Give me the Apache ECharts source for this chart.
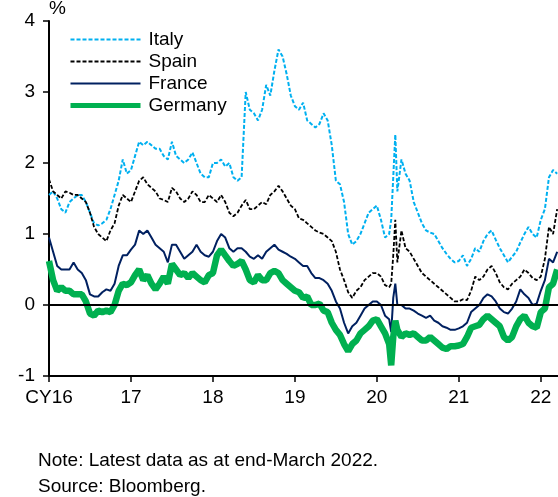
<!DOCTYPE html>
<html>
<head>
<meta charset="utf-8">
<script src="https://cdn.jsdelivr.net/npm/echarts@6/dist/echarts.min.js"></script>
<style>
html,body{margin:0;padding:0;background:#fff;}
#chart{width:558px;height:497px;}
</style>
</head>
<body>
<div id="chart"></div>
<script>
// Sampling dates (fractional years), ~every 0.05 yr, with extra points around March 2020
const sampleDates = [];
for (let y = 2016; y <= 2021; y++) {
  for (let k = 0; k < 20; k++) {
    sampleDates.push(+(y + k * 0.05).toFixed(3));
    if (y === 2020 && (k === 3 || k === 4)) sampleDates.push(+(y + k * 0.05 + 0.025).toFixed(3));
  }
}
for (let k = 0; k <= 4; k++) sampleDates.push(+(2022 + k * 0.05).toFixed(3));

const tickYears = [2016, 2017, 2018, 2019, 2020, 2021, 2022];
const tickLabels = ['CY16', '17', '18', '19', '20', '21', '22'];
const seriesNames = ['Italy', 'Spain', 'France', 'Germany'];

const italy = [
  1.55,1.6,1.5,1.35,1.3,1.45,1.5,1.55,1.55,1.45,1.3,1.15,1.12,1.15,1.2,1.35,1.55,1.75,2.05,1.85,
  1.9,2.1,2.3,2.25,2.3,2.25,2.2,2.2,2.1,2.05,2.3,2.1,2.05,2.0,2.05,2.15,2.0,1.85,1.8,1.8,
  2.0,2.0,2.05,1.95,2.0,1.8,1.75,1.8,3.0,2.75,2.7,2.6,2.75,3.1,2.95,3.3,3.6,3.5,3.25,2.95,
  2.8,2.75,2.85,2.6,2.55,2.5,2.55,2.7,2.6,2.25,1.75,1.7,1.45,1.0,0.85,0.9,1.0,1.15,1.3,1.35,
  1.4,1.2,0.95,1.0,1.2,1.8,2.4,1.6,2.05,1.85,1.75,1.45,1.3,1.15,1.05,1.02,1.0,0.9,0.8,0.72,0.65,0.6,
  0.62,0.7,0.55,0.65,0.8,0.75,0.9,1.0,1.05,0.92,0.8,0.7,0.6,0.68,0.75,0.88,1.0,1.1,1.0,0.95,
  1.2,1.35,1.8,1.9,1.85
];
const spain = [
  1.77,1.6,1.55,1.5,1.6,1.58,1.55,1.55,1.5,1.45,1.3,1.1,1.0,0.95,0.9,1.05,1.15,1.4,1.55,1.5,
  1.45,1.6,1.75,1.8,1.7,1.65,1.6,1.5,1.48,1.45,1.65,1.6,1.5,1.45,1.5,1.6,1.55,1.45,1.45,1.55,
  1.5,1.45,1.55,1.45,1.3,1.25,1.3,1.4,1.48,1.35,1.35,1.4,1.45,1.42,1.55,1.6,1.68,1.6,1.5,1.4,
  1.35,1.22,1.2,1.15,1.1,1.05,1.02,1.0,0.95,0.9,0.75,0.5,0.35,0.18,0.1,0.2,0.25,0.35,0.4,0.45,
  0.45,0.4,0.28,0.25,0.3,0.7,1.2,0.6,1.05,0.8,0.75,0.65,0.55,0.45,0.4,0.35,0.3,0.25,0.2,0.15,0.1,0.05,
  0.05,0.08,0.07,0.2,0.4,0.35,0.4,0.5,0.55,0.45,0.32,0.25,0.22,0.3,0.35,0.4,0.5,0.45,0.38,0.35,
  0.4,0.65,1.1,1.0,1.35
];
const france = [
  0.95,0.75,0.55,0.5,0.5,0.5,0.6,0.5,0.45,0.35,0.15,0.12,0.12,0.18,0.22,0.2,0.3,0.55,0.7,0.7,
  0.78,0.85,1.05,1.0,1.05,0.95,0.85,0.8,0.75,0.6,0.85,0.85,0.75,0.65,0.7,0.75,0.85,0.75,0.7,0.68,
  0.75,0.9,1.0,0.95,0.8,0.75,0.8,0.8,0.75,0.68,0.65,0.7,0.65,0.75,0.8,0.85,0.78,0.75,0.72,0.68,
  0.65,0.6,0.55,0.55,0.45,0.38,0.38,0.35,0.3,0.2,0.05,-0.05,-0.25,-0.4,-0.3,-0.25,-0.15,-0.05,0.0,0.05,
  0.05,0.0,-0.15,-0.2,-0.38,0.1,0.3,0.0,0.0,-0.05,-0.05,-0.08,-0.12,-0.15,-0.18,-0.15,-0.22,-0.25,-0.3,-0.32,-0.35,-0.35,
  -0.33,-0.3,-0.25,-0.1,-0.05,0.0,0.1,0.15,0.12,0.05,-0.05,-0.1,-0.12,-0.05,0.05,0.22,0.15,0.1,0.0,0.02,
  0.2,0.35,0.65,0.6,0.75
];
const germany = [
  0.62,0.35,0.2,0.25,0.2,0.2,0.15,0.15,0.15,0.05,-0.12,-0.15,-0.08,-0.1,-0.08,-0.1,0.0,0.2,0.3,0.28,
  0.32,0.42,0.5,0.35,0.42,0.3,0.22,0.3,0.4,0.3,0.58,0.5,0.42,0.45,0.38,0.45,0.4,0.35,0.32,0.42,
  0.45,0.7,0.78,0.7,0.62,0.55,0.58,0.62,0.5,0.35,0.32,0.42,0.35,0.35,0.45,0.48,0.45,0.35,0.3,0.25,
  0.2,0.18,0.1,0.12,0.0,0.0,0.02,-0.08,-0.1,-0.25,-0.35,-0.42,-0.55,-0.65,-0.55,-0.5,-0.4,-0.35,-0.3,-0.22,
  -0.2,-0.3,-0.4,-0.55,-0.85,-0.45,-0.22,-0.35,-0.45,-0.4,-0.42,-0.4,-0.45,-0.5,-0.5,-0.45,-0.5,-0.55,-0.6,-0.62,-0.58,-0.58,
  -0.57,-0.55,-0.45,-0.32,-0.3,-0.28,-0.2,-0.15,-0.2,-0.25,-0.3,-0.45,-0.5,-0.45,-0.3,-0.2,-0.15,-0.25,-0.3,-0.32,
  -0.1,-0.05,0.25,0.3,0.5
];

const FONT = 'Liberation Sans, Arial, sans-serif';
const pair = arr => sampleDates.map((d, i) => [d, arr[i]]);
const legendWidths = [2, 2, 2, 5];

const chart = echarts.init(document.getElementById('chart'), null, {renderer: 'canvas'});
chart.setOption({
  animation: false,
  backgroundColor: '#fff',
  textStyle: {fontFamily: FONT},
  grid: {left: 49, right: 0, top: 21, bottom: 121, containLabel: false},
  legend: {
    orient: 'vertical', left: 63, top: 25, itemWidth: 70, itemHeight: 14, itemGap: 3,
    itemStyle: {opacity: 0},
    textStyle: {fontFamily: FONT, fontSize: 19, color: '#000', padding: [0, 0, 0, 3]},
    data: seriesNames.map((n, i) => ({name: n, lineStyle: {width: legendWidths[i]}}))
  },
  xAxis: {
    type: 'value', min: 2016, max: 2022.21, interval: 1,
    axisLine: {onZero: false, lineStyle: {color: '#000', width: 2}},
    axisTick: {show: true, length: 6, lineStyle: {color: '#000', width: 1.5}, customValues: tickYears},
    axisLabel: {
      customValues: tickYears, color: '#000', fontSize: 19, fontFamily: FONT, margin: 12,
      formatter: v => { const i = tickYears.indexOf(Math.round(v)); return i >= 0 ? tickLabels[i] : ''; }
    },
    splitLine: {show: false}
  },
  yAxis: {
    type: 'value', min: -1, max: 4, interval: 1,
    axisLine: {show: true, lineStyle: {color: '#000', width: 2}},
    axisTick: {show: true, length: 6, lineStyle: {color: '#000', width: 1.5}},
    axisLabel: {color: '#000', fontSize: 19, fontFamily: FONT, margin: 14},
    splitLine: {show: false}
  },
  series: [
    {name: 'Italy', type: 'line', data: pair(italy), symbol: 'none', color: '#00B0F0',
     lineStyle: {color: '#00B0F0', width: 2, type: [4, 2]},
     markLine: {silent: true, symbol: 'none', label: {show: false},
       lineStyle: {color: '#000', width: 2, type: 'solid'}, data: [{yAxis: 0}]}},
    {name: 'Spain', type: 'line', data: pair(spain), symbol: 'none', color: '#000000',
     lineStyle: {color: '#000000', width: 1.8, type: [4, 2]}},
    {name: 'France', type: 'line', data: pair(france), symbol: 'none', color: '#002060',
     lineStyle: {color: '#002060', width: 2}},
    {name: 'Germany', type: 'line', data: pair(germany), symbol: 'none', color: '#00B050',
     lineStyle: {color: '#00B050', width: 6.5}}
  ],
  graphic: [
    {type: 'text', x: 49, y: 9, style: {text: '%', font: '19px ' + FONT, fill: '#000', verticalAlign: 'middle'}},
    {type: 'text', x: 38, y: 461, style: {text: 'Note: Latest data as at end-March 2022.', font: '19px ' + FONT, fill: '#000', verticalAlign: 'middle'}},
    {type: 'text', x: 38, y: 487, style: {text: 'Source: Bloomberg.', font: '19px ' + FONT, fill: '#000', verticalAlign: 'middle'}}
  ]
});
</script>
</body>
</html>
